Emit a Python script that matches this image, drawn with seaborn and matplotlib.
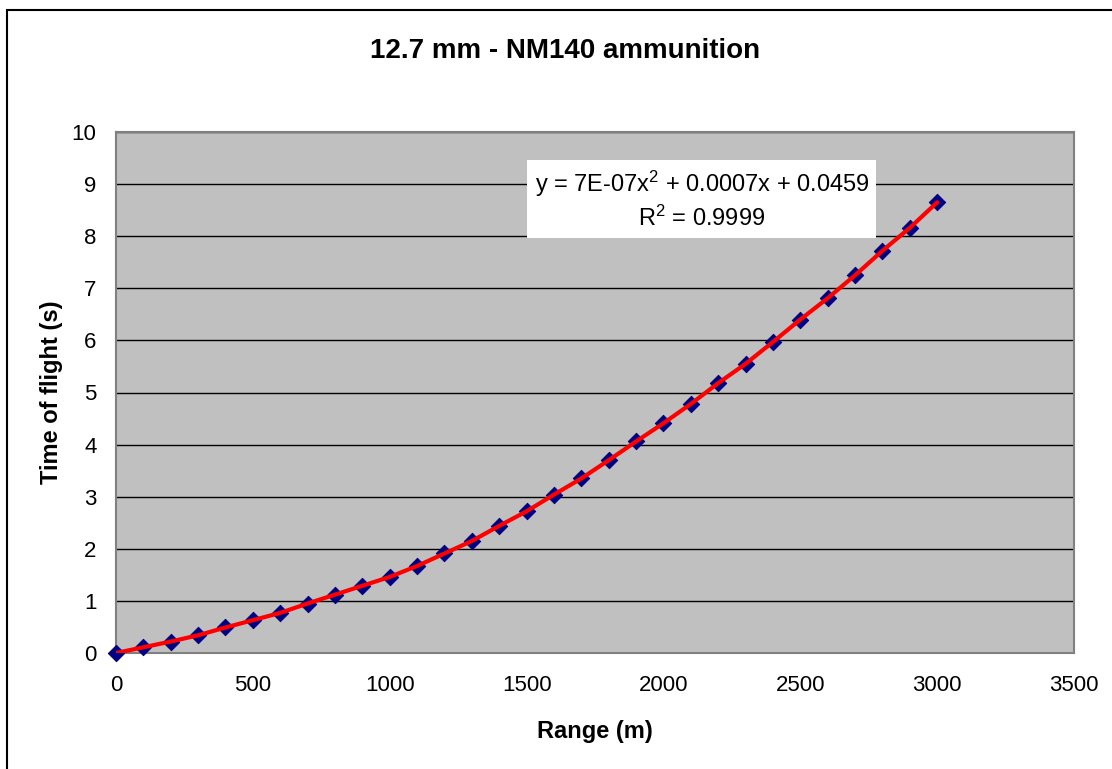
import numpy as np
import pandas as pd
import seaborn as sns
import matplotlib.pyplot as plt
from matplotlib.patches import Rectangle

# range (m) and time of flight (s)
range_m = [0, 100, 200, 300, 400, 500, 600, 700, 800, 900, 1000,
           1100, 1200, 1300, 1400, 1500, 1600, 1700, 1800, 1900, 2000,
           2100, 2200, 2300, 2400, 2500, 2600, 2700, 2800, 2900, 3000]
tof_s = [0.0, 0.11, 0.22, 0.34, 0.49, 0.63, 0.77, 0.95, 1.12, 1.29, 1.46,
         1.67, 1.91, 2.15, 2.44, 2.72, 3.04, 3.35, 3.70, 4.06, 4.41,
         4.78, 5.18, 5.55, 5.97, 6.40, 6.81, 7.25, 7.72, 8.16, 8.65]
x_ticks = [0, 500, 1000, 1500, 2000, 2500, 3000, 3500]
y_ticks = [0, 1, 2, 3, 4, 5, 6, 7, 8, 9, 10]
eq_text = "y = 7E-07x$^{2}$ + 0.0007x + 0.0459\nR$^{2}$ = 0.9999"

df = pd.DataFrame({"Range": range_m, "TOF": tof_s})

sns.set_style("white")
plt.rcParams["font.family"] = ["Liberation Sans", "DejaVu Sans"]
plt.rcParams["mathtext.fontset"] = "custom"
plt.rcParams["mathtext.rm"] = "Liberation Sans"
plt.rcParams["mathtext.it"] = "Liberation Sans:italic"
plt.rcParams["text.color"] = "black"
plt.rcParams["axes.labelcolor"] = "black"

fig = plt.figure(figsize=(11.12, 7.69), dpi=100)
ax = fig.add_axes([116/1112, 1-653/769, (1074-116)/1112, (653-132)/769])
ax.set_facecolor("#C0C0C0")

sns.scatterplot(data=df, x="Range", y="TOF", ax=ax, marker="D", s=70,
                color="#000080", edgecolor="#000080", zorder=4, clip_on=False)
sns.lineplot(data=df, x="Range", y="TOF", ax=ax, color="#FF0000", lw=3, zorder=5)

ax.set_xlim(0, 3500)
ax.set_ylim(0, 10)
ax.set_xticks(x_ticks)
ax.set_yticks(y_ticks)
ax.yaxis.grid(True, color="black", lw=1)
ax.set_axisbelow(True)
for s in ax.spines.values():
    s.set_color("#808080")
    s.set_linewidth(1.5)
ax.tick_params(axis="both", direction="out", length=6, width=1, color="#404040",
               labelsize=16, labelcolor="black", pad=8)
ax.tick_params(axis="x", pad=10)

ax.set_xlabel("Range (m)", fontsize=17, fontweight="bold", labelpad=17)
ax.set_ylabel("Time of flight (s)", fontsize=17, fontweight="bold", labelpad=6)
fig.suptitle("12.7 mm - NM140 ammunition", x=565/1112, y=1-51/769, va="center",
             fontsize=20, fontweight="bold", color="black")

ax.text(2140, 8.7, eq_text, ha="center", va="center", fontsize=17,
        linespacing=1.3, zorder=6,
        bbox=dict(boxstyle="square,pad=0.3", facecolor="white", edgecolor="none"))

fig.patches.append(Rectangle((7/1112, -0.1), 1.2, 1-10/769+0.1,
                             transform=fig.transFigure, fill=False,
                             edgecolor="black", lw=1.5))

fig.savefig("out.png", dpi=100)
